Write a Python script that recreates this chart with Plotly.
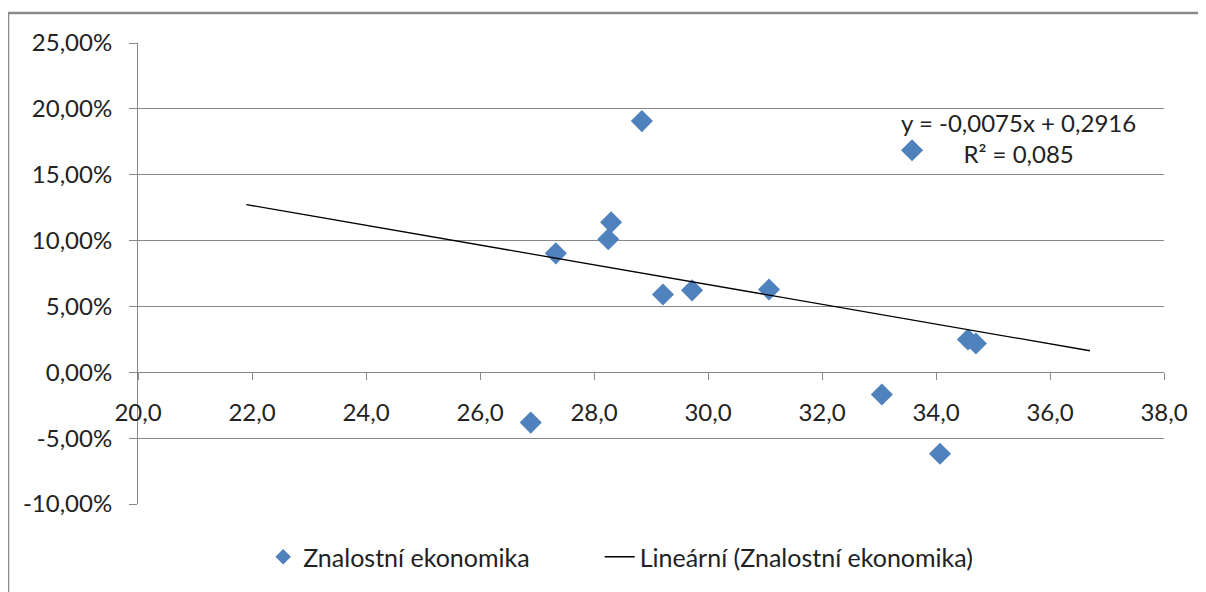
import plotly.graph_objects as go

# Data
x_values = [28.84, 33.58, 28.30, 28.25, 27.33, 29.21, 29.72, 31.07, 34.56, 34.70, 33.05, 26.89, 34.07]
y_values = [0.1907, 0.1686, 0.1139, 0.1010, 0.0903, 0.0591, 0.0622, 0.0629, 0.0249, 0.0219, -0.0169, -0.0382, -0.0618]

trend_slope = -0.0075
trend_intercept = 0.2916
trend_x = [21.9, 36.7]
trend_y = [trend_slope * v + trend_intercept for v in trend_x]

series_name = "Znalostní ekonomika"
trend_name = "Lineární (Znalostní ekonomika)"
equation_text = "y = -0,0075x + 0,2916<br>R² = 0,085"

x_ticks = [20, 22, 24, 26, 28, 30, 32, 34, 36, 38]
x_tick_labels = ["20,0", "22,0", "24,0", "26,0", "28,0", "30,0", "32,0", "34,0", "36,0", "38,0"]
y_ticks = [-0.10, -0.05, 0.0, 0.05, 0.10, 0.15, 0.20, 0.25]
y_tick_labels = ["-10,00%", "-5,00%", "0,00%", "5,00%", "10,00%", "15,00%", "20,00%", "25,00%"]

FONT = "Lato, 'Open Sans', sans-serif"
GRID = "#878787"
FS = 24

fig = go.Figure()
fig.add_trace(go.Scatter(
    x=x_values, y=y_values, mode="markers", name=series_name,
    marker=dict(symbol="diamond", size=17, color="#4F81BD",
                line=dict(width=0)),
    legend="legend",
))
fig.add_trace(go.Scatter(
    x=trend_x, y=trend_y, mode="lines", name=trend_name,
    line=dict(color="#000000", width=1.3),
    legend="legend2",
))

fig.update_layout(
    width=1198, height=584,
    margin=dict(l=130, r=42, t=35, b=88),
    paper_bgcolor="white", plot_bgcolor="white",
    font=dict(family=FONT, size=FS, color="#222222"),
    showlegend=True,
    legend=dict(orientation="h", x=0.122, xanchor="left", y=-0.115, yanchor="middle",
                font=dict(size=25), itemsizing="constant", bgcolor="rgba(0,0,0,0)"),
    legend2=dict(orientation="h", x=0.450, xanchor="left", y=-0.115, yanchor="middle",
                 font=dict(size=25), bgcolor="rgba(0,0,0,0)"),
    xaxis=dict(
        range=[20, 38], tickvals=x_ticks, ticktext=x_tick_labels,
        showgrid=False, zeroline=False,
        showline=True, linecolor=GRID, linewidth=1,
        ticks="outside", ticklen=7, tickcolor=GRID,
        anchor="free", position=10/35,
        ticklabelstandoff=12,
    ),
    yaxis=dict(
        range=[-0.10, 0.25], tickvals=y_ticks, ticktext=y_tick_labels,
        showgrid=True, gridcolor=GRID, gridwidth=1,
        zeroline=False,
        showline=True, linecolor=GRID, linewidth=1,
        ticks="outside", ticklen=8, tickcolor=GRID,
        ticklabelstandoff=12,
    ),
    annotations=[dict(
        x=35.44, y=0.178, xref="x", yref="y", text=equation_text,
        showarrow=False, align="center", font=dict(size=FS, family=FONT),
    )],
    shapes=[dict(
        type="rect", xref="paper", yref="paper",
        x0=-0.1267, x1=1.06, y0=-0.25, y1=1.065,
        line=dict(color="#8a8a8a", width=2.5), layer="below",
    )],
)

fig.write_html("out.html")
